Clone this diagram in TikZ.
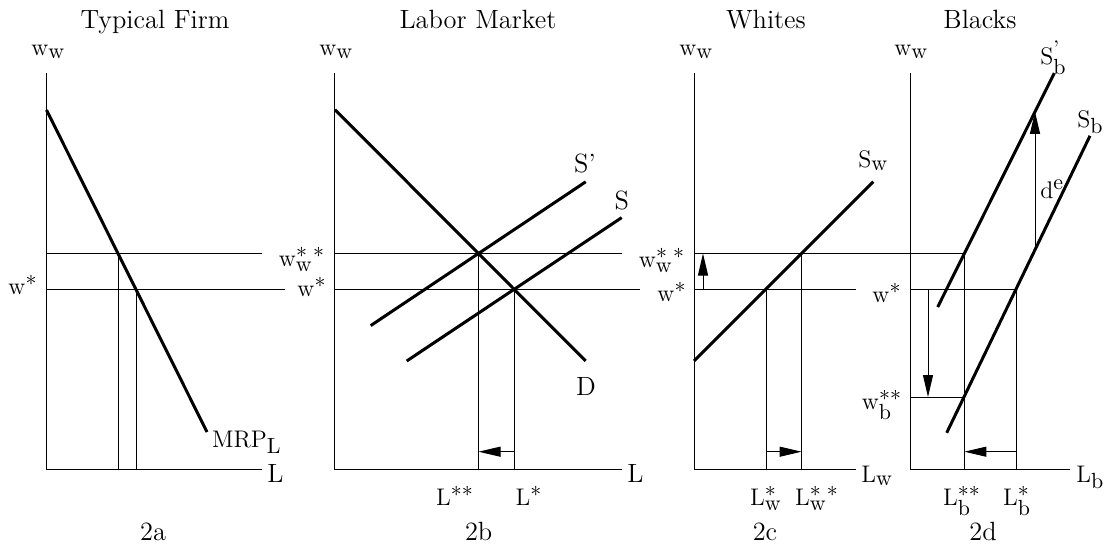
\documentclass[tikz,border=0pt]{standalone}
\usepackage{amsmath}
\usetikzlibrary{arrows.meta}
\renewcommand{\defaultscriptratio}{.8}
\begin{document}
\begin{tikzpicture}[x=.5pt,y=-.5pt,
 every node/.style={font=\fontsize{13.2}{16}\selectfont,inner sep=0pt},
 ax/.style={line width=.5pt},crv/.style={line width=1.5pt},
 mv/.style={line width=.5pt,-{Triangle[length=11pt,width=5pt]}}]
\useasboundingbox (0,0) rectangle (1104,546);
% axes of the four panels
\foreach \p/\x/\e in {a/46.5/262,b/334/621.7,c/694/855.7,d/910/1070}{
 \coordinate (\p O) at (\x,469);\coordinate (\p Y) at (\x,73);\coordinate (\p X) at (\e,469);
 \draw[ax] (\p Y)--(\p O)--(\p X);}
\node (tA)[anchor=base] at (155,28){Typical Firm};\node (tB)[anchor=base] at (478,28){Labor Market};
\node (tC)[anchor=base] at (766,28){Whites};\node (tD)[anchor=base] at (980,28){Blacks};
\foreach \p/\x in {a/48.5,b/336.5,c/696.5,d/911.5}{\node (\p wl)[anchor=base] at (\x,55){$\mathrm{w_w}$};}
\node (aLx)[anchor=base west] at (267,482){L};\node (bLx)[anchor=base west] at (627,482){L};
\node (cLx)[anchor=base west] at (861,482){$\mathrm{L_w}$};\node (dLx)[anchor=base west] at (1076,482){$\mathrm{L_b}$};
\foreach \n/\x/\t in {na/153/2a,nb/478.7/2b,nc/765/2c,nd/983/2d}{\node (\n)[anchor=base] at (\x,540){\t};}
% 2a typical firm
\coordinate (aW2) at (118.3,253.5);\coordinate (aW1) at (136,289);
\draw[ax] (aO |- aW2)--(262,253.5) (aO |- aW1)--(285,289) (aW2)--(aW2 |- aO) (aW1)--(aW1 |- aO);
\draw[crv] (46.5,110)--(207,432);
\node (mrp)[anchor=base west] at (211.7,447){$\mathrm{MRP_L}$};
\node (aws)[anchor=base] at (23,294){$\mathrm{w^*}$};
% 2b labor market
\coordinate (bW2) at (478.5,253.5);\coordinate (bW1) at (514,289);
\draw[ax] (bO |- bW2)--(621.7,253.5) (bO |- bW1)--(640,289) (bW2)--(bW2 |- bO) (bW1)--(bW1 |- bO);
\draw[crv] (335,109.7)--(585.7,361) (370.7,325.6)--(585.7,181.8) (406.7,361)--(621.7,217.6);
\coordinate (bA) at (514,451.7);\draw[mv] (bA)--(bA -| bW2);
\node (bD)[anchor=base] at (586,395){D};\node (bSp)[anchor=base] at (585,172){S'};\node (bS)[anchor=base] at (621.7,209){S};
\node (bwss)[anchor=base] at (302,266){$\mathrm{w_w^{*\;*}}$};\node (bws)[anchor=base] at (312,296){$\mathrm{w^*}$};
\node (bLss)[anchor=base] at (455,505){$\mathrm{L^{**}}$};\node (bLs)[anchor=base] at (529,505){$\mathrm{L^{*}}$};
% 2c whites
\coordinate (cW1) at (766,289);\coordinate (cW2) at (801.6,253.5);\coordinate (dW2) at (964.4,253.5);
\draw[ax] (cO |- cW2)--(dW2) (cO |- cW1)--(855.7,289) (cW1)--(cW1 |- cO) (cW2)--(cW2 |- cO);
\draw[crv] (694,361)--(873.3,181.8);
\coordinate (cA) at (766,451.7);\draw[mv] (cA)--(cA -| cW2);
\coordinate (cU) at (703,289);\draw[mv] (cU)--(cU |- cW2);
\node (cSw)[anchor=base west] at (858,167){$\mathrm{S_w}$};
\node (cwss)[anchor=base] at (662,267){$\mathrm{w_w^{*\;*}}$};\node (cws)[anchor=base] at (672,301){$\mathrm{w^*}$};
\node (cLs)[anchor=base] at (766,505){$\mathrm{L_w^*}$};\node (cLss)[anchor=base] at (817,505){$\mathrm{L_w^{*\;*}}$};
% 2d blacks
\coordinate (dW1) at (1016,289);\coordinate (dWb) at (964.4,397);
\draw[ax] (dO |- dW1)--(dW1) (dW2)--(dW2 |- dO) (dW1)--(dW1 |- dO) (dO |- dWb)--(dWb);
\draw[crv] (937.7,307)--(1054.3,73.1) (946.7,432.8)--(1090,135.8);
\coordinate (dD) at (928,289);\draw[mv] (dD)--(dD |- dWb);
\coordinate (dA) at (1016,451.7);\draw[mv] (dA)--(dA -| dW2);
\coordinate (dE1) at (1035,249.8);\coordinate (dE2) at (1035,111.8);\draw[mv] (dE1)--(dE2);
\node (dSp)[anchor=base west] at (1040,64){$\mathrm{S}^{\text{'}}_{\mathrm{b}}$};
\node (dS)[anchor=base west] at (1077,127){$\mathrm{S_b}$};
\node (dde)[anchor=base west] at (1040,198){$\mathrm{d^e}$};
\node (dws)[anchor=base] at (887,302){$\mathrm{w^*}$};\node (dwb)[anchor=base] at (882,409){$\mathrm{w_b^{**}}$};
\node (dLss)[anchor=base] at (962,505){$\mathrm{L_b^{**}}$};\node (dLs)[anchor=base] at (1017,505){$\mathrm{L_b^*}$};
\end{tikzpicture}
\end{document}
